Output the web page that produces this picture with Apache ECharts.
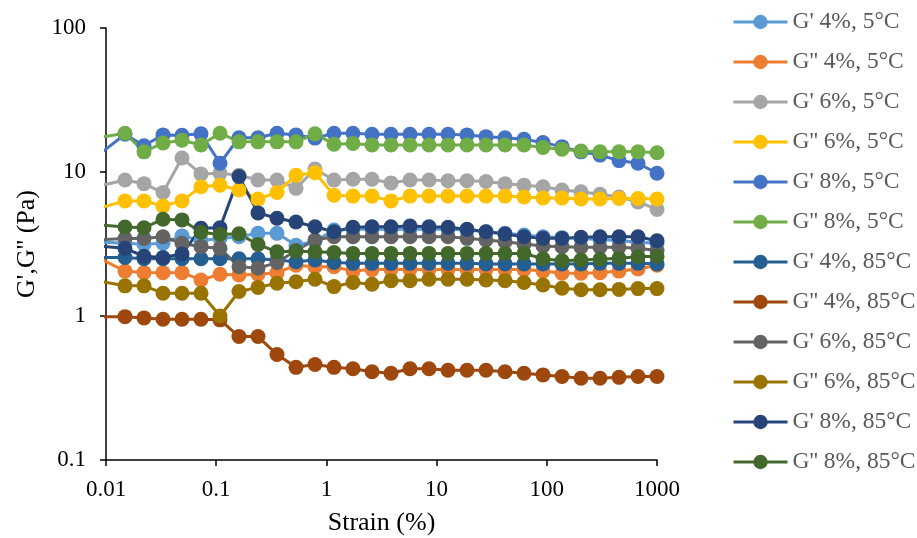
<!DOCTYPE html>
<html>
<head>
<meta charset="utf-8">
<script src="https://cdn.jsdelivr.net/npm/echarts@6/dist/echarts.min.js"></script>
<style>
  html, body { margin: 0; padding: 0; background: #fff; }
  #chart { width: 917px; height: 538px; }
</style>
</head>
<body>
<div id="chart"></div>
<script>
// strain (%) of each measuring point, first one lies just left of the axis
var strain = [0.0093, 0.01487, 0.02212, 0.0329, 0.04894, 0.07279, 0.1083, 0.161, 0.2395, 0.3562,
  0.5298, 0.788, 1.172, 1.743, 2.593, 3.857, 5.736, 8.532, 12.69, 18.88,
  28.07, 41.76, 62.11, 92.38, 137.4, 204.3, 304, 452.1, 672.4, 1000];

var xTicks = ["0.01", "0.1", "1", "10", "100", "1000"];
var yTicks = ["0.1", "1", "10", "100"];

var names = ["G' 4%, 5°C", "G'' 4%, 5°C", "G' 6%, 5°C", "G'' 6%, 5°C", "G' 8%, 5°C", "G'' 8%, 5°C",
  "G' 4%, 85°C", "G'' 4%, 85°C", "G' 6%, 85°C", "G'' 6%, 85°C", "G' 8%, 85°C", "G'' 8%, 85°C"];

var colors = ["#5B9BD5", "#ED7D31", "#A5A5A5", "#FFC000", "#4472C4", "#70AD47",
  "#255E91", "#9E480E", "#636363", "#997300", "#264478", "#43682B"];

var g1_4_5 = [3.25, 3.2, 3.15, 3.2, 3.6, 3.35, 3.45, 3.55, 3.75, 3.75,
  3.1, 3.3, 3.95, 4.0, 4.0, 4.0, 4.0, 4.0, 4.0, 3.95,
  3.85, 3.75, 3.65, 3.55, 3.5, 3.45, 3.4, 3.35, 3.25, 3.2];
var g2_4_5 = [2.45, 2.05, 2.0, 2.0, 2.0, 1.78, 1.95, 1.93, 1.95, 2.0,
  2.25, 2.2, 2.2, 2.05, 2.1, 2.1, 2.1, 2.1, 2.1, 2.1,
  2.1, 2.1, 2.1, 2.05, 1.98, 1.98, 2.0, 2.05, 2.12, 2.25];
var g1_6_5 = [8.1, 8.8, 8.3, 7.2, 12.5, 9.7, 9.8, 9.5, 8.8, 8.8,
  7.7, 10.5, 8.8, 8.9, 8.9, 8.4, 8.8, 8.8, 8.7, 8.7,
  8.6, 8.3, 8.1, 7.9, 7.5, 7.3, 7.0, 6.7, 6.2, 5.5];
var g2_6_5 = [5.7, 6.3, 6.3, 5.8, 6.3, 7.9, 8.1, 7.5, 6.5, 7.2,
  9.5, 9.9, 6.9, 6.8, 6.8, 6.3, 6.8, 6.8, 6.8, 6.8,
  6.8, 6.8, 6.7, 6.6, 6.6, 6.5, 6.5, 6.55, 6.55, 6.5];
var g1_8_5 = [13.8, 18.3, 15.2, 18.1, 18.0, 18.4, 11.5, 17.3, 17.3, 18.6,
  18.1, 17.2, 18.6, 18.6, 18.3, 18.3, 18.3, 18.3, 18.3, 18.1,
  17.6, 17.3, 16.9, 16.0, 15.0, 13.8, 13.1, 12.0, 11.5, 9.8];
var g2_8_5 = [17.5, 18.6, 13.8, 15.9, 16.6, 15.4, 18.6, 16.2, 16.2, 16.2,
  16.2, 18.4, 15.6, 15.8, 15.4, 15.4, 15.4, 15.4, 15.4, 15.4,
  15.4, 15.4, 15.4, 14.8, 14.4, 14.0, 13.8, 13.8, 13.8, 13.6];
var g1_4_85 = [2.55, 2.55, 2.5, 2.5, 2.5, 2.5, 2.5, 2.5, 2.5, 2.45,
  2.38, 2.45, 2.35, 2.32, 2.32, 2.32, 2.32, 2.32, 2.32, 2.32,
  2.3, 2.3, 2.3, 2.3, 2.3, 2.3, 2.32, 2.32, 2.32, 2.3];
var g2_4_85 = [0.99, 0.99, 0.97, 0.95, 0.95, 0.95, 0.94, 0.72, 0.72, 0.54,
  0.44, 0.46, 0.44, 0.43, 0.41, 0.40, 0.43, 0.43, 0.42, 0.42,
  0.42, 0.41, 0.40, 0.39, 0.38, 0.37, 0.37, 0.375, 0.38, 0.38];
var g1_6_85 = [3.4, 3.45, 3.45, 3.55, 3.2, 3.03, 2.95, 2.2, 2.15, 2.35,
  2.85, 3.37, 3.55, 3.55, 3.55, 3.55, 3.55, 3.55, 3.55, 3.46,
  3.37, 3.28, 3.16, 3.06, 3.03, 3.0, 3.0, 3.0, 2.95, 2.85];
var g2_6_85 = [1.73, 1.62, 1.62, 1.44, 1.44, 1.44, 1.0, 1.48, 1.58, 1.69,
  1.73, 1.8, 1.6, 1.71, 1.66, 1.76, 1.76, 1.8, 1.8, 1.8,
  1.78, 1.76, 1.71, 1.64, 1.56, 1.52, 1.52, 1.53, 1.55, 1.55];
var g1_8_85 = [3.05, 2.95, 2.6, 2.55, 2.7, 4.06, 4.1, 9.3, 5.2, 4.77,
  4.5, 4.17, 3.85, 4.13, 4.17, 4.17, 4.22, 4.17, 4.13, 4.0,
  3.85, 3.71, 3.55, 3.46, 3.46, 3.52, 3.55, 3.55, 3.55, 3.33];
var g2_8_85 = [4.28, 4.15, 4.1, 4.7, 4.65, 3.82, 3.68, 3.72, 3.14, 2.79,
  2.82, 2.79, 2.76, 2.72, 2.72, 2.72, 2.72, 2.72, 2.72, 2.72,
  2.72, 2.72, 2.72, 2.5, 2.42, 2.45, 2.48, 2.52, 2.58, 2.6];

var values = [g1_4_5, g2_4_5, g1_6_5, g2_6_5, g1_8_5, g2_8_5,
  g1_4_85, g2_4_85, g1_6_85, g2_6_85, g1_8_85, g2_8_85];

var font = "'Liberation Serif', 'Times New Roman', serif";

function tickLabel(list) {
  return function (v) {
    var s = String(+v.toPrecision(3));
    return list.indexOf(s) >= 0 ? s : "";
  };
}

var series = names.map(function (name, i) {
  return {
    name: name,
    type: "line",
    symbol: "circle",
    symbolSize: 15,
    clip: true,
    data: strain.map(function (x, k) {
      return [x, values[i][k]];
    }),
    lineStyle: { color: colors[i], width: 3 },
    itemStyle: { color: colors[i] },
    emphasis: { disabled: true },
    animation: false,
  };
});

var myChart = echarts.init(document.getElementById("chart"));
myChart.setOption({
  color: colors,
  animation: false,
  grid: { left: 106, right: 260, top: 28, bottom: 78, outerBoundsMode: "none" },
  legend: {
    orient: "vertical",
    left: 732,
    top: 10,
    padding: 0,
    itemWidth: 54,
    itemHeight: 18,
    itemGap: 16,
    lineStyle: { width: 3 },
    textStyle: { fontFamily: font, fontSize: 23.5, color: "#595959" },
    data: names,
  },
  xAxis: {
    type: "log",
    logBase: 10,
    min: 0.01,
    max: 1000,
    name: "Strain (%)",
    nameLocation: "middle",
    nameGap: 50,
    nameTextStyle: { fontFamily: font, fontSize: 26, color: "#000" },
    axisLine: { lineStyle: { color: "#000", width: 1.5 } },
    axisTick: { show: true, length: 6, lineStyle: { color: "#000", width: 1.5 } },
    minorTick: { show: false },
    axisLabel: { fontFamily: font, fontSize: 23, color: "#000", margin: 18, formatter: tickLabel(xTicks) },
    splitLine: { show: false },
  },
  yAxis: {
    type: "log",
    logBase: 10,
    min: 0.1,
    max: 100,
    name: "G',G'' (Pa)",
    nameLocation: "middle",
    nameGap: 62,
    nameTextStyle: { fontFamily: font, fontSize: 26, color: "#000" },
    axisLine: { show: true, lineStyle: { color: "#000", width: 1.5 } },
    axisTick: { show: true, length: 6, lineStyle: { color: "#000", width: 1.5 } },
    axisLabel: { fontFamily: font, fontSize: 23, color: "#000", margin: 20, formatter: tickLabel(yTicks) },
    splitLine: { show: false },
  },
  series: series,
});
</script>
</body>
</html>
